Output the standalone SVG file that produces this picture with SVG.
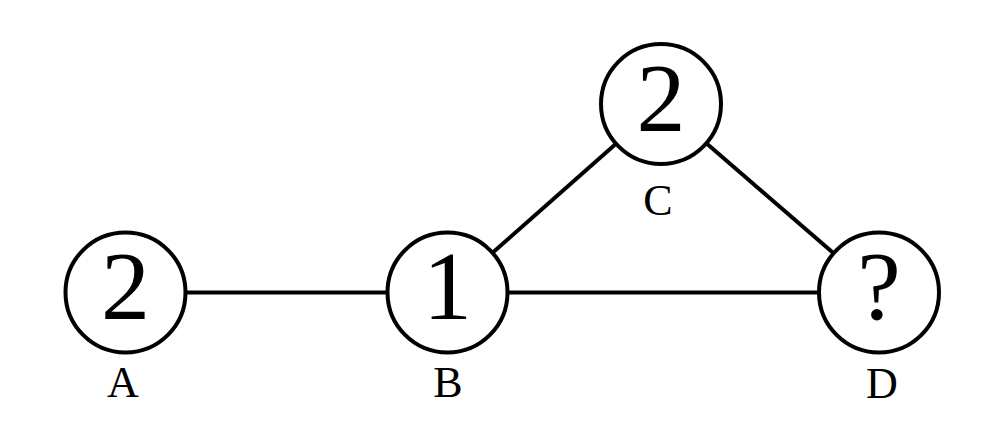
<svg xmlns="http://www.w3.org/2000/svg" width="998" height="428" viewBox="0 0 998 428">
<style>
.node circle{fill:#fff;stroke:#000;stroke-width:4}
.edge{stroke:#000;stroke-width:4;fill:none}
.val{font-family:"Liberation Serif",serif;font-size:98px;text-anchor:middle;fill:#000}
.lbl{font-family:"Liberation Serif",serif;font-size:44px;text-anchor:middle;fill:#000}
</style>
<rect width="998" height="428" fill="#fff"/>
<g id="connectors">
<line class="edge" x1="125.5" y1="292.5" x2="447.5" y2="292.5"/>
<line class="edge" x1="447.5" y1="292.5" x2="879" y2="292.5"/>
<line class="edge" x1="447.5" y1="292.5" x2="661" y2="104"/>
<line class="edge" x1="661" y1="104" x2="879" y2="292.5"/>
</g>
<g id="A" class="node"><circle cx="125.5" cy="292.5" r="60"/><text class="val" x="125.5" y="319">2</text><text class="lbl" x="123" y="397">A</text></g>
<g id="B" class="node"><circle cx="447.5" cy="292.5" r="60"/><text class="val" x="447.5" y="319">1</text><text class="lbl" x="448" y="397">B</text></g>
<g id="C" class="node"><circle cx="661" cy="104" r="60"/><text class="val" x="661" y="131">2</text><text class="lbl" x="658" y="215">C</text></g>
<g id="D" class="node"><circle cx="879" cy="292.5" r="60"/><text class="val" x="879" y="319">?</text><text class="lbl" x="882" y="398">D</text></g>
</svg>
